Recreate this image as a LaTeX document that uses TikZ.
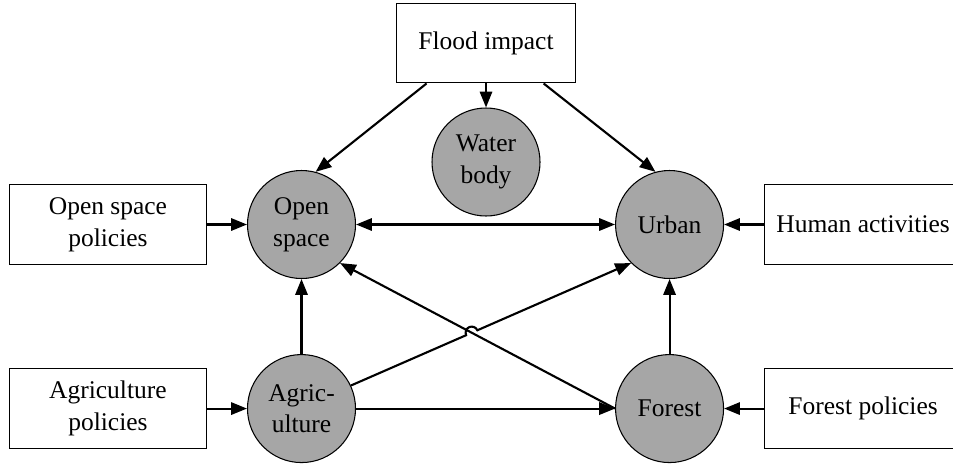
\documentclass[tikz,border=0pt]{standalone}
\usepackage{fontspec}
\setmainfont{Liberation Serif}
\usetikzlibrary{arrows.meta,positioning,calc}
\definecolor{zonegris}{HTML}{A6A6A6}

\begin{document}
\begin{tikzpicture}[
  font=\fontsize{14.5}{18}\selectfont,
  box/.style={draw, align=center, minimum width=3.94cm, minimum height=1.6cm, inner sep=2pt, line width=0.6pt},
  zone/.style={circle, draw, fill=zonegris, align=center, minimum size=2.16cm, inner sep=0pt, line width=0.6pt},
  link/.style={-{Triangle[length=9pt,width=7pt]}, line width=1.2pt},
  dlink/.style={{Triangle[length=9pt,width=7pt]}-{Triangle[length=9pt,width=7pt]}, line width=1.2pt}
]
\useasboundingbox (0,0) rectangle (19.06,-9.26);
\node[zone] (open) at (6.03,-4.49) {Open\\ space};
\node[zone, right=5.18cm of open] (urban) {Urban};
\node[zone, below=1.5cm of open] (agri) {Agric-\\ ulture};
\node[zone, right=5.18cm of agri] (forest) {Forest};
\node[zone] (water) at (9.72,-3.24) {Water\\ body};
\node[box, minimum width=3.58cm, minimum height=1.58cm, above=0.48cm of water] (flood) {Flood impact};
\node[box, left=0.8cm of open] (ospol) {Open space\\ policies};
\node[box, right=0.8cm of urban] (human) {Human activities};
\node[box, left=0.8cm of agri] (agpol) {Agriculture\\ policies};
\node[box, right=0.8cm of forest] (fopol) {Forest policies};

\draw[link] (flood) -- (water);
\draw[link] ($(flood.south west)!0.17!(flood.south east)$) -- (open.75);
\draw[link] ($(flood.south west)!0.82!(flood.south east)$) -- (urban.105);
\draw[dlink] (open) -- (urban);
\draw[link] (ospol) -- (open);
\draw[link] (human) -- (urban);
\draw[link] (agpol) -- (agri);
\draw[link] (fopol) -- (forest);
\draw[link] (agri) -- (open);
\draw[link] (forest) -- (urban);
\draw[link] (agri) -- (forest);
\draw[link] (forest.west) -- (open.south east);
% jump over the crossing line
\coordinate (hop) at (intersection of agri.25--urban.south west and forest.west--open.south east);
\draw[link] let \p1=($(urban.south west)-(agri.25)$), \n1={atan2(\y1,\x1)} in
  (agri.25) -- ($(hop)!3.5pt!(agri.25)$) arc[start angle=\n1+180, end angle=\n1, radius=3.5pt] -- (urban.south west);
\end{tikzpicture}
\end{document}
